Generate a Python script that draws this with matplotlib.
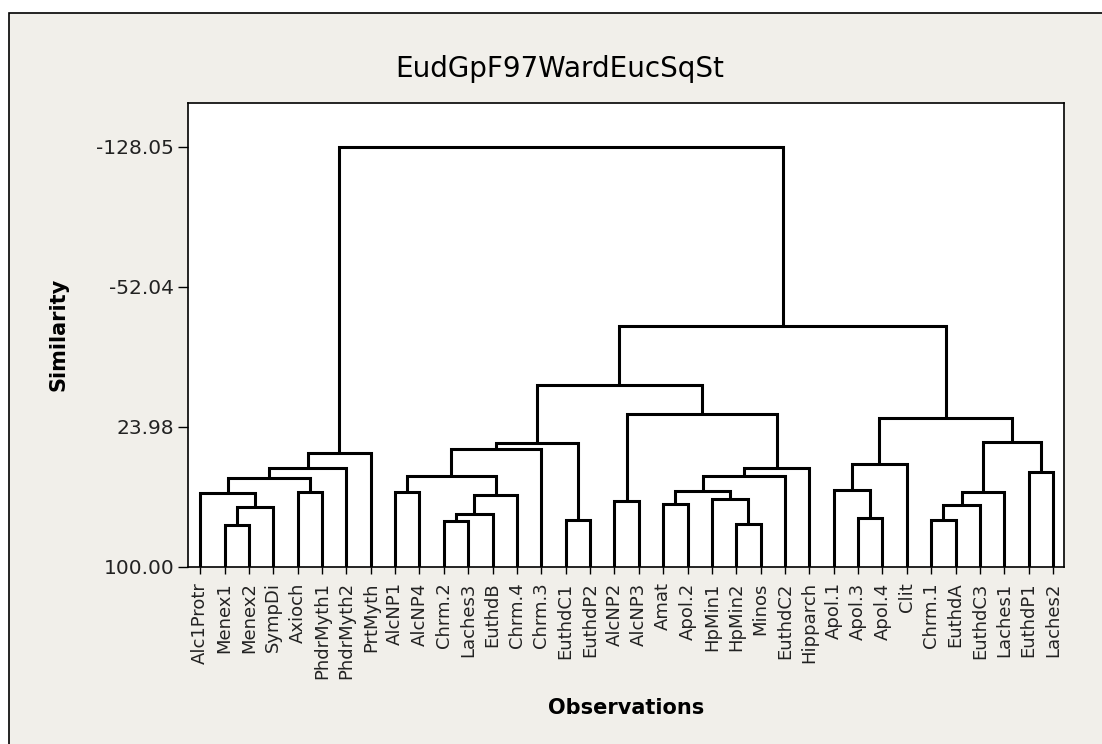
import numpy as np
import matplotlib
matplotlib.use("Agg")
import matplotlib.pyplot as plt
from matplotlib.patches import Rectangle

# leaves, left to right as in the dendrogram
observations = ["Alc1Protr", "Menex1", "Menex2", "SympDi", "Axioch", "PhdrMyth1",
                "PhdrMyth2", "PrtMyth", "AlcNP1", "AlcNP4", "Chrm.2", "Laches3",
                "EuthdB", "Chrm.4", "Chrm.3", "EuthdC1", "EuthdP2", "AlcNP2",
                "AlcNP3", "Amat", "Apol.2", "HpMin1", "HpMin2", "Minos", "EuthdC2",
                "Hipparch", "Apol.1", "Apol.3", "Apol.4", "Clit", "Chrm.1", "EuthdA",
                "EuthdC3", "Laches1", "EuthdP1", "Laches2"]

# joins: cluster k is called "m<k>"
join_a = ["Menex1", "m0", "Alc1Protr", "Axioch", "m2", "m4", "m5",
          "AlcNP1", "Chrm.2", "m8", "m9", "m7", "m11", "EuthdC1", "m12",
          "AlcNP2", "Amat", "HpMin2", "HpMin1", "m16", "m19", "m20", "m15", "m14",
          "Apol.3", "Apol.1", "m25", "Chrm.1", "m27", "m28", "EuthdP1", "m29", "m26",
          "m23", "m6"]
join_b = ["Menex2", "SympDi", "m1", "PhdrMyth1", "m3", "PhdrMyth2", "PrtMyth",
          "AlcNP4", "Laches3", "EuthdB", "Chrm.4", "m10", "Chrm.3", "EuthdP2", "m13",
          "AlcNP3", "Apol.2", "Minos", "m17", "m18", "EuthdC2", "Hipparch", "m21", "m22",
          "Apol.4", "m24", "Clit", "EuthdA", "EuthdC3", "Laches1", "Laches2", "m30", "m31",
          "m32", "m33"]
join_height = [77.1, 67.3, 60.1, 59.2, 51.6, 46.5, 37.9,
               59.2, 75.3, 71.0, 60.8, 50.9, 35.9, 74.7, 32.8,
               64.4, 65.7, 76.7, 63.0, 59.0, 50.9, 46.3, 17.0, 1.5,
               73.4, 58.1, 44.2, 74.7, 66.6, 59.3, 48.7, 32.2, 19.2,
               -31.0, -128.05]

y_ticks = [-128.05, -52.04, 23.98, 100.00]


def main():
    plt.rcParams['axes.unicode_minus'] = False
    W, H = 1102, 744
    fig = plt.figure(figsize=(W / 100, H / 100), dpi=100, facecolor="white")

    # beige panel with the black frame (top/left visible)
    fig.patches.append(Rectangle((9 / W, -0.1), 1.2, 1 - 13 / H + 0.1,
                                 transform=fig.transFigure, facecolor="#f1efea",
                                 edgecolor="black", lw=1.2, zorder=-1))

    ax = fig.add_axes([188 / W, 1 - 567 / H, (1064 - 188) / W, (567 - 102.7) / H])
    ax.set_facecolor("white")

    pos = {name: i for i, name in enumerate(observations)}
    top = {name: y_ticks[-1] for name in observations}
    for k, (a, b, h) in enumerate(zip(join_a, join_b, join_height)):
        xa, xb = pos[a], pos[b]
        ax.plot([xa, xa, xb, xb], [top[a], h, h, top[b]], color="black", lw=2.2,
                solid_joinstyle="miter", solid_capstyle="butt")
        pos["m%d" % k] = (xa + xb) / 2
        top["m%d" % k] = h

    ax.set_xlim(-0.5, len(observations) - 0.55)
    ax.set_ylim(100, -151.9)

    ax.set_xticks(range(len(observations)))
    ax.set_xticklabels(observations, rotation=90, fontsize=13, color="#222222")
    ax.set_yticks(y_ticks)
    ax.set_yticklabels(["%.2f" % v for v in y_ticks], fontsize=14.5, color="#222222")
    ax.tick_params(axis="x", direction="out", length=5, width=1, pad=6)
    ax.tick_params(axis="y", direction="out", length=7, width=1, pad=3)
    for s in ax.spines.values():
        s.set_linewidth(1.2)

    ax.set_ylabel("Similarity", fontsize=15, fontweight="bold")
    ax.yaxis.set_label_coords(-0.136, 0.5)
    ax.set_xlabel("Observations", fontsize=15, fontweight="bold")
    ax.xaxis.set_label_coords(0.5, -0.282)

    fig.text(560 / W, 1 - 77 / H, "EudGpF97WardEucSqSt", fontsize=20,
             ha="center", va="baseline")

    fig.savefig("out.png", dpi=100, facecolor=fig.get_facecolor())


if __name__ == '__main__':
    main()
